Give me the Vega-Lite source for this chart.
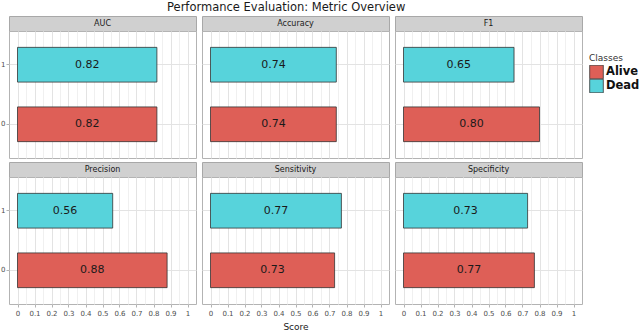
{
  "$schema": "https://vega.github.io/schema/vega-lite/v6.json",
  "padding": {"left": 0, "top": 2, "right": 0, "bottom": 0},
  "background": "white",
  "title": {"text": "Performance Evaluation: Metric Overview", "anchor": "start", "dx": 167, "fontSize": 11.5, "font": "DejaVu Sans", "fontWeight": "normal", "color": "#1a1a1a", "offset": 2},
  "datasets": {
    "scores": [
      {"metric": "AUC", "cls": "1", "Classes": "Dead", "value": 0.82},
      {"metric": "AUC", "cls": "0", "Classes": "Alive", "value": 0.82},
      {"metric": "Accuracy", "cls": "1", "Classes": "Dead", "value": 0.74},
      {"metric": "Accuracy", "cls": "0", "Classes": "Alive", "value": 0.74},
      {"metric": "F1", "cls": "1", "Classes": "Dead", "value": 0.65},
      {"metric": "F1", "cls": "0", "Classes": "Alive", "value": 0.80},
      {"metric": "Precision", "cls": "1", "Classes": "Dead", "value": 0.56},
      {"metric": "Precision", "cls": "0", "Classes": "Alive", "value": 0.88},
      {"metric": "Sensitivity", "cls": "1", "Classes": "Dead", "value": 0.77},
      {"metric": "Sensitivity", "cls": "0", "Classes": "Alive", "value": 0.73},
      {"metric": "Specificity", "cls": "1", "Classes": "Dead", "value": 0.73},
      {"metric": "Specificity", "cls": "0", "Classes": "Alive", "value": 0.77}
    ]
  },
  "spacing": 2,
  "vconcat": [
    {
      "spacing": 4,
      "hconcat": [
        {
          "bounds": "flush", "spacing": 0,
          "vconcat": [
            {"width": 187, "height": 15, "view": {"fill": "#d0d0d0", "stroke": "#a8a8a8"}, "data": {"name": "scores"},
             "transform": [{"filter": "datum.metric === 'AUC' && datum.cls === '1'"}],
             "mark": {"type": "text", "fontSize": 8, "color": "#1a1a1a", "font": "DejaVu Sans", "baseline": "middle"},
             "encoding": {"text": {"field": "metric"}}},
            {"width": 187, "height": 127, "view": {"stroke": "#b3b3b3"}, "data": {"name": "scores"},
             "transform": [{"filter": "datum.metric === 'AUC'"}],
             "encoding": {"y": {"field": "cls", "type": "nominal", "scale": {"domain": ["1", "0"], "paddingInner": 0.417, "paddingOuter": 0.275},
               "axis": {"title": null, "bandPosition": 0.5, "grid": true, "gridColor": "#e3e3e3", "domain": false, "tickColor": "#b3b3b3", "tickSize": 3, "labelFontSize": 7, "labelColor": "#4d4d4d", "labelPadding": 1, "labelAngle": 0, "labelFont": "DejaVu Sans"}}},
             "layer": [
               {"mark": {"type": "bar", "stroke": "#333333", "strokeWidth": 0.8},
                "encoding": {"x": {"field": "value", "type": "quantitative", "scale": {"domain": [-0.05, 1.05], "nice": false},
                  "axis": {"values": [0, 0.1, 0.2, 0.3, 0.4, 0.5, 0.6, 0.7, 0.8, 0.9, 1], "grid": true, "gridColor": "#e3e3e3", "domain": false, "labels": false, "ticks": false, "title": null}},
                  "color": {"field": "Classes", "type": "nominal", "scale": {"domain": ["Alive", "Dead"], "range": ["#DE5F57", "#57D3DB"]}}}},
               {"mark": {"type": "text", "fontSize": 11, "color": "#1a1a1a", "font": "DejaVu Sans", "baseline": "middle"},
                "encoding": {"x": {"field": "value", "type": "quantitative", "scale": {"domain": [-0.1, 2.1], "nice": false},
                  "axis": {"orient": "top", "values": [0.1, 0.3, 0.5, 0.7, 0.9, 1.1, 1.3, 1.5, 1.7, 1.9], "grid": true, "gridColor": "#f0f0f0", "labels": false, "ticks": false, "domain": false, "title": null}},
                  "text": {"field": "value", "type": "quantitative", "format": ".2f"}}}
             ],
             "resolve": {"scale": {"x": "independent"}, "axis": {"x": "independent"}}}
          ]
        },
        {
          "bounds": "flush", "spacing": 0,
          "vconcat": [
            {"width": 187, "height": 15, "view": {"fill": "#d0d0d0", "stroke": "#a8a8a8"}, "data": {"name": "scores"},
             "transform": [{"filter": "datum.metric === 'Accuracy' && datum.cls === '1'"}],
             "mark": {"type": "text", "fontSize": 8, "color": "#1a1a1a", "font": "DejaVu Sans", "baseline": "middle"},
             "encoding": {"text": {"field": "metric"}}},
            {"width": 187, "height": 127, "view": {"stroke": "#b3b3b3"}, "data": {"name": "scores"},
             "transform": [{"filter": "datum.metric === 'Accuracy'"}],
             "encoding": {"y": {"field": "cls", "type": "nominal", "scale": {"domain": ["1", "0"], "paddingInner": 0.417, "paddingOuter": 0.275},
               "axis": {"title": null, "bandPosition": 0.5, "grid": true, "gridColor": "#e3e3e3", "domain": false, "ticks": false, "labels": false}}},
             "layer": [
               {"mark": {"type": "bar", "stroke": "#333333", "strokeWidth": 0.8},
                "encoding": {"x": {"field": "value", "type": "quantitative", "scale": {"domain": [-0.05, 1.05], "nice": false},
                  "axis": {"values": [0, 0.1, 0.2, 0.3, 0.4, 0.5, 0.6, 0.7, 0.8, 0.9, 1], "grid": true, "gridColor": "#e3e3e3", "domain": false, "labels": false, "ticks": false, "title": null}},
                  "color": {"field": "Classes", "type": "nominal", "scale": {"domain": ["Alive", "Dead"], "range": ["#DE5F57", "#57D3DB"]}}}},
               {"mark": {"type": "text", "fontSize": 11, "color": "#1a1a1a", "font": "DejaVu Sans", "baseline": "middle"},
                "encoding": {"x": {"field": "value", "type": "quantitative", "scale": {"domain": [-0.1, 2.1], "nice": false},
                  "axis": {"orient": "top", "values": [0.1, 0.3, 0.5, 0.7, 0.9, 1.1, 1.3, 1.5, 1.7, 1.9], "grid": true, "gridColor": "#f0f0f0", "labels": false, "ticks": false, "domain": false, "title": null}},
                  "text": {"field": "value", "type": "quantitative", "format": ".2f"}}}
             ],
             "resolve": {"scale": {"x": "independent"}, "axis": {"x": "independent"}}}
          ]
        },
        {
          "bounds": "flush", "spacing": 0,
          "vconcat": [
            {"width": 187, "height": 15, "view": {"fill": "#d0d0d0", "stroke": "#a8a8a8"}, "data": {"name": "scores"},
             "transform": [{"filter": "datum.metric === 'F1' && datum.cls === '1'"}],
             "mark": {"type": "text", "fontSize": 8, "color": "#1a1a1a", "font": "DejaVu Sans", "baseline": "middle"},
             "encoding": {"text": {"field": "metric"}}},
            {"width": 187, "height": 127, "view": {"stroke": "#b3b3b3"}, "data": {"name": "scores"},
             "transform": [{"filter": "datum.metric === 'F1'"}],
             "encoding": {"y": {"field": "cls", "type": "nominal", "scale": {"domain": ["1", "0"], "paddingInner": 0.417, "paddingOuter": 0.275},
               "axis": {"title": null, "bandPosition": 0.5, "grid": true, "gridColor": "#e3e3e3", "domain": false, "ticks": false, "labels": false}}},
             "layer": [
               {"mark": {"type": "bar", "stroke": "#333333", "strokeWidth": 0.8},
                "encoding": {"x": {"field": "value", "type": "quantitative", "scale": {"domain": [-0.05, 1.05], "nice": false},
                  "axis": {"values": [0, 0.1, 0.2, 0.3, 0.4, 0.5, 0.6, 0.7, 0.8, 0.9, 1], "grid": true, "gridColor": "#e3e3e3", "domain": false, "labels": false, "ticks": false, "title": null}},
                  "color": {"field": "Classes", "type": "nominal", "scale": {"domain": ["Alive", "Dead"], "range": ["#DE5F57", "#57D3DB"]}}}},
               {"mark": {"type": "text", "fontSize": 11, "color": "#1a1a1a", "font": "DejaVu Sans", "baseline": "middle"},
                "encoding": {"x": {"field": "value", "type": "quantitative", "scale": {"domain": [-0.1, 2.1], "nice": false},
                  "axis": {"orient": "top", "values": [0.1, 0.3, 0.5, 0.7, 0.9, 1.1, 1.3, 1.5, 1.7, 1.9], "grid": true, "gridColor": "#f0f0f0", "labels": false, "ticks": false, "domain": false, "title": null}},
                  "text": {"field": "value", "type": "quantitative", "format": ".2f"}}}
             ],
             "resolve": {"scale": {"x": "independent"}, "axis": {"x": "independent"}}}
          ]
        }
      ]
    },
    {
      "spacing": 4,
      "hconcat": [
        {
          "bounds": "flush", "spacing": 0,
          "vconcat": [
            {"width": 187, "height": 15, "view": {"fill": "#d0d0d0", "stroke": "#a8a8a8"}, "data": {"name": "scores"},
             "transform": [{"filter": "datum.metric === 'Precision' && datum.cls === '1'"}],
             "mark": {"type": "text", "fontSize": 8, "color": "#1a1a1a", "font": "DejaVu Sans", "baseline": "middle"},
             "encoding": {"text": {"field": "metric"}}},
            {"width": 187, "height": 127, "view": {"stroke": "#b3b3b3"}, "data": {"name": "scores"},
             "transform": [{"filter": "datum.metric === 'Precision'"}],
             "encoding": {"y": {"field": "cls", "type": "nominal", "scale": {"domain": ["1", "0"], "paddingInner": 0.417, "paddingOuter": 0.275},
               "axis": {"title": null, "bandPosition": 0.5, "grid": true, "gridColor": "#e3e3e3", "domain": false, "tickColor": "#b3b3b3", "tickSize": 3, "labelFontSize": 7, "labelColor": "#4d4d4d", "labelPadding": 1, "labelAngle": 0, "labelFont": "DejaVu Sans"}}},
             "layer": [
               {"mark": {"type": "bar", "stroke": "#333333", "strokeWidth": 0.8},
                "encoding": {"x": {"field": "value", "type": "quantitative", "scale": {"domain": [-0.05, 1.05], "nice": false},
                  "axis": {"values": [0, 0.1, 0.2, 0.3, 0.4, 0.5, 0.6, 0.7, 0.8, 0.9, 1], "format": "~g", "grid": true, "gridColor": "#e3e3e3", "domain": false, "tickColor": "#b3b3b3", "tickSize": 3, "labelFontSize": 7, "labelColor": "#4d4d4d", "labelPadding": 2, "labelFont": "DejaVu Sans", "title": null}},
                  "color": {"field": "Classes", "type": "nominal", "scale": {"domain": ["Alive", "Dead"], "range": ["#DE5F57", "#57D3DB"]}}}},
               {"mark": {"type": "text", "fontSize": 11, "color": "#1a1a1a", "font": "DejaVu Sans", "baseline": "middle"},
                "encoding": {"x": {"field": "value", "type": "quantitative", "scale": {"domain": [-0.1, 2.1], "nice": false},
                  "axis": {"orient": "top", "values": [0.1, 0.3, 0.5, 0.7, 0.9, 1.1, 1.3, 1.5, 1.7, 1.9], "grid": true, "gridColor": "#f0f0f0", "labels": false, "ticks": false, "domain": false, "title": null}},
                  "text": {"field": "value", "type": "quantitative", "format": ".2f"}}}
             ],
             "resolve": {"scale": {"x": "independent"}, "axis": {"x": "independent"}}}
          ]
        },
        {
          "bounds": "flush", "spacing": 0,
          "vconcat": [
            {"width": 187, "height": 15, "view": {"fill": "#d0d0d0", "stroke": "#a8a8a8"}, "data": {"name": "scores"},
             "transform": [{"filter": "datum.metric === 'Sensitivity' && datum.cls === '1'"}],
             "mark": {"type": "text", "fontSize": 8, "color": "#1a1a1a", "font": "DejaVu Sans", "baseline": "middle"},
             "encoding": {"text": {"field": "metric"}}},
            {"width": 187, "height": 127, "view": {"stroke": "#b3b3b3"}, "data": {"name": "scores"},
             "transform": [{"filter": "datum.metric === 'Sensitivity'"}],
             "encoding": {"y": {"field": "cls", "type": "nominal", "scale": {"domain": ["1", "0"], "paddingInner": 0.417, "paddingOuter": 0.275},
               "axis": {"title": null, "bandPosition": 0.5, "grid": true, "gridColor": "#e3e3e3", "domain": false, "ticks": false, "labels": false}}},
             "layer": [
               {"mark": {"type": "bar", "stroke": "#333333", "strokeWidth": 0.8},
                "encoding": {"x": {"field": "value", "type": "quantitative", "scale": {"domain": [-0.05, 1.05], "nice": false},
                  "axis": {"values": [0, 0.1, 0.2, 0.3, 0.4, 0.5, 0.6, 0.7, 0.8, 0.9, 1], "format": "~g", "grid": true, "gridColor": "#e3e3e3", "domain": false, "tickColor": "#b3b3b3", "tickSize": 3, "labelFontSize": 7, "labelColor": "#4d4d4d", "labelPadding": 2, "labelFont": "DejaVu Sans", "title": "Score", "titleFontSize": 9, "titleFontWeight": "normal", "titleColor": "#1a1a1a", "titleFont": "DejaVu Sans", "titlePadding": 6}},
                  "color": {"field": "Classes", "type": "nominal", "scale": {"domain": ["Alive", "Dead"], "range": ["#DE5F57", "#57D3DB"]}}}},
               {"mark": {"type": "text", "fontSize": 11, "color": "#1a1a1a", "font": "DejaVu Sans", "baseline": "middle"},
                "encoding": {"x": {"field": "value", "type": "quantitative", "scale": {"domain": [-0.1, 2.1], "nice": false},
                  "axis": {"orient": "top", "values": [0.1, 0.3, 0.5, 0.7, 0.9, 1.1, 1.3, 1.5, 1.7, 1.9], "grid": true, "gridColor": "#f0f0f0", "labels": false, "ticks": false, "domain": false, "title": null}},
                  "text": {"field": "value", "type": "quantitative", "format": ".2f"}}}
             ],
             "resolve": {"scale": {"x": "independent"}, "axis": {"x": "independent"}}}
          ]
        },
        {
          "bounds": "flush", "spacing": 0,
          "vconcat": [
            {"width": 187, "height": 15, "view": {"fill": "#d0d0d0", "stroke": "#a8a8a8"}, "data": {"name": "scores"},
             "transform": [{"filter": "datum.metric === 'Specificity' && datum.cls === '1'"}],
             "mark": {"type": "text", "fontSize": 8, "color": "#1a1a1a", "font": "DejaVu Sans", "baseline": "middle"},
             "encoding": {"text": {"field": "metric"}}},
            {"width": 187, "height": 127, "view": {"stroke": "#b3b3b3"}, "data": {"name": "scores"},
             "transform": [{"filter": "datum.metric === 'Specificity'"}],
             "encoding": {"y": {"field": "cls", "type": "nominal", "scale": {"domain": ["1", "0"], "paddingInner": 0.417, "paddingOuter": 0.275},
               "axis": {"title": null, "bandPosition": 0.5, "grid": true, "gridColor": "#e3e3e3", "domain": false, "ticks": false, "labels": false}}},
             "layer": [
               {"mark": {"type": "bar", "stroke": "#333333", "strokeWidth": 0.8},
                "encoding": {"x": {"field": "value", "type": "quantitative", "scale": {"domain": [-0.05, 1.05], "nice": false},
                  "axis": {"values": [0, 0.1, 0.2, 0.3, 0.4, 0.5, 0.6, 0.7, 0.8, 0.9, 1], "format": "~g", "grid": true, "gridColor": "#e3e3e3", "domain": false, "tickColor": "#b3b3b3", "tickSize": 3, "labelFontSize": 7, "labelColor": "#4d4d4d", "labelPadding": 2, "labelFont": "DejaVu Sans", "title": null}},
                  "color": {"field": "Classes", "type": "nominal", "scale": {"domain": ["Alive", "Dead"], "range": ["#DE5F57", "#57D3DB"]}}}},
               {"mark": {"type": "text", "fontSize": 11, "color": "#1a1a1a", "font": "DejaVu Sans", "baseline": "middle"},
                "encoding": {"x": {"field": "value", "type": "quantitative", "scale": {"domain": [-0.1, 2.1], "nice": false},
                  "axis": {"orient": "top", "values": [0.1, 0.3, 0.5, 0.7, 0.9, 1.1, 1.3, 1.5, 1.7, 1.9], "grid": true, "gridColor": "#f0f0f0", "labels": false, "ticks": false, "domain": false, "title": null}},
                  "text": {"field": "value", "type": "quantitative", "format": ".2f"}}}
             ],
             "resolve": {"scale": {"x": "independent"}, "axis": {"x": "independent"}}}
          ]
        }
      ]
    }
  ],
  "config": {
    "font": "DejaVu Sans",
    "legend": {"orient": "none", "legendX": 580, "legendY": 38, "titleFontSize": 9, "titleFontWeight": "normal", "titleColor": "#333333", "titleFont": "DejaVu Sans", "titlePadding": 2, "labelFontSize": 11.5, "labelFontWeight": "bold", "labelColor": "#111111", "labelFont": "DejaVu Sans", "symbolType": "square", "symbolSize": 185, "symbolStrokeColor": "#333333", "symbolStrokeWidth": 0.8, "symbolOpacity": 1, "rowPadding": 0, "labelOffset": 2, "clipHeight": 14}
  }
}
